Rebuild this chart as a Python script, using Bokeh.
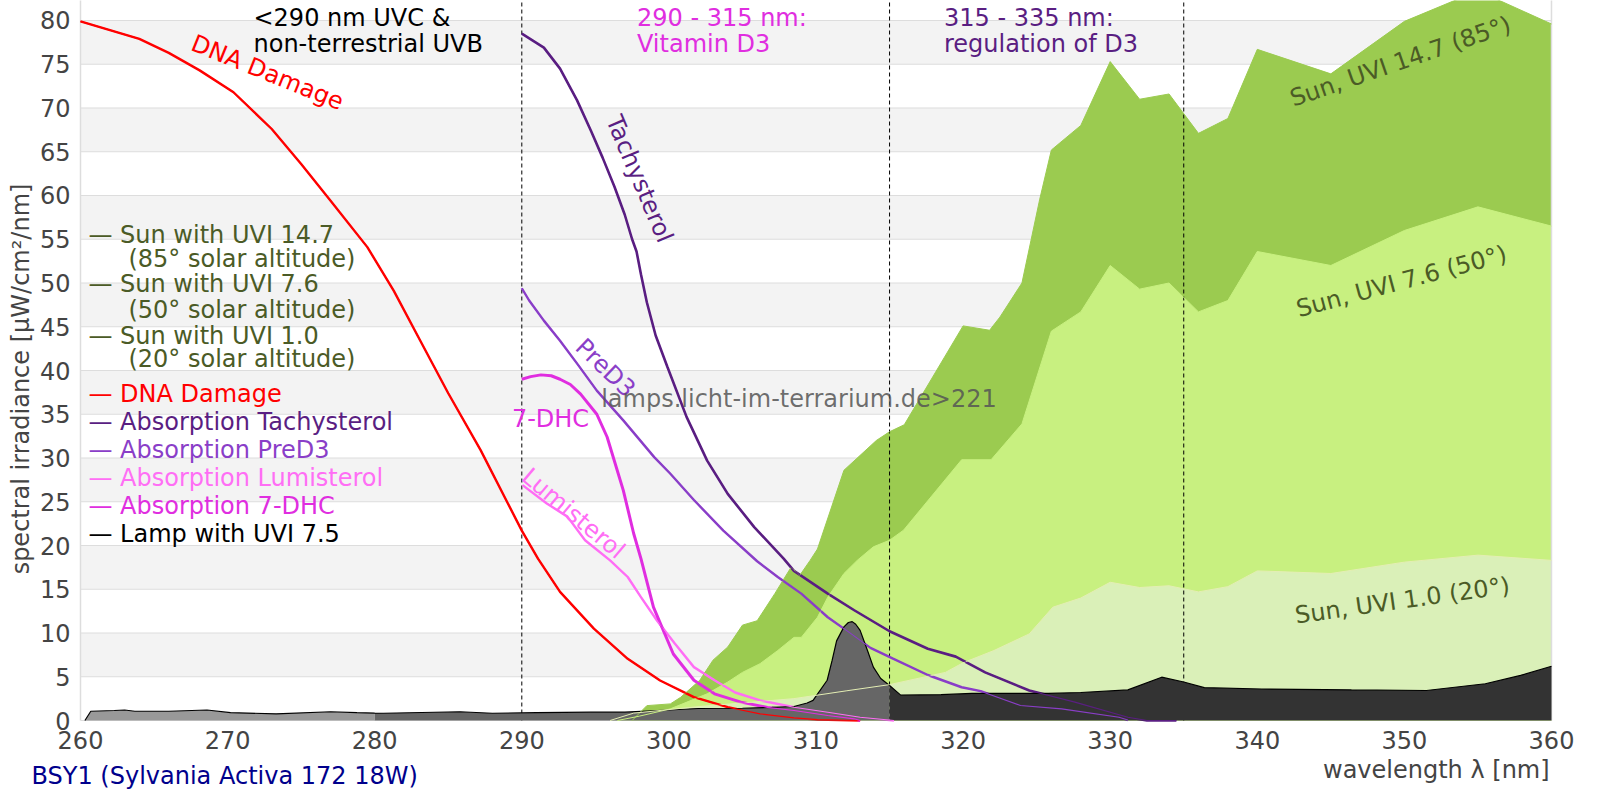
import numpy as np
from bokeh.plotting import figure
from bokeh.models import Label, Range1d
from bokeh.core.properties import value
from bokeh.embed import file_html
from bokeh.resources import INLINE

# ---------------- data ----------------
x_ticks = [260, 270, 280, 290, 300, 310, 320, 330, 340, 350, 360]
x_tick_labels = [str(t) for t in x_ticks]
y_ticks = list(range(0, 81, 5))
y_tick_labels = [str(t) for t in y_ticks]
region_bounds = [290, 315, 335]
wl_min, wl_max = 260, 360

sun147_wl = [297.5, 298.5, 300.1, 300.8, 302.1, 303.0, 304.0, 305.0, 306.0, 307.2, 308.3, 308.9,
             309.6, 310.1, 311.9, 314.1, 315.0, 316.0, 320.0, 321.8, 322.5, 324.0, 325.2, 326.0,
             328.0, 330.0, 332.0, 334.0, 336.0, 338.0, 340.0, 345.0, 350.0, 355.0, 360.0]
sun147_val = [0.0, 1.7, 1.9, 2.65, 4.6, 6.9, 8.4, 10.9, 11.4, 14.5, 17.5, 16.6,
              18.3, 19.6, 28.6, 32.0, 33.0, 33.8, 45.1, 44.6, 46.1, 50.0, 59.5, 65.2,
              68.0, 75.3, 71.0, 71.6, 67.1, 68.8, 76.7, 73.9, 79.9, 83.4, 79.6]

sun76_wl = [296.5, 298.0, 300.1, 302.6, 304.0, 305.0, 306.2, 307.4, 308.5, 309.0, 310.1, 310.8,
            311.9, 312.8, 313.9, 315.0, 315.95, 319.9, 321.9, 324.0, 326.0, 328.0, 330.0, 332.0,
            334.0, 336.0, 338.0, 340.0, 345.0, 350.0, 355.0, 360.0]
sun76_val = [0.0, 0.5, 1.33, 3.05, 4.4, 5.5, 6.5, 8.0, 9.5, 9.5, 11.8, 14.1,
             16.8, 18.3, 19.85, 20.6, 21.75, 29.8, 29.8, 33.9, 44.5, 46.7, 52.0, 49.3,
             50.0, 46.7, 48.0, 53.6, 52.0, 56.0, 58.7, 56.5]

sun10_wl = [296.0, 297.6, 302.1, 308.5, 312.1, 315.0, 318.8, 320.0, 322.1, 324.5, 326.1, 328.0,
            330.0, 332.0, 334.0, 336.0, 338.0, 340.0, 345.0, 350.0, 355.0, 360.0]
sun10_val = [0.0, 0.84, 1.6, 2.5, 3.4, 4.1, 5.5, 6.6, 8.0, 9.9, 12.95, 14.0,
             15.8, 15.2, 15.4, 14.7, 15.3, 17.1, 16.8, 18.1, 18.9, 18.3]

lamp_wl = [260.3, 260.7, 262.3, 263.0, 263.7, 266.0, 268.6, 270.2, 273.3, 277.0, 278.8, 280.0,
           280.6, 285.8, 288.0, 291.0, 294.7, 297.0, 300.0, 302.0, 305.0, 307.0, 308.5, 309.4,
           309.8, 310.76, 311.1, 311.4, 311.9, 312.2, 312.46, 312.7, 313.0, 313.5, 313.9, 314.4,
           315.0, 315.76, 318.5, 320.6, 325.8, 328.0, 331.2, 333.5, 335.0, 336.4, 340.3, 346.4,
           351.5, 355.5, 357.9, 360.0]
lamp_val = [0.0, 1.06, 1.14, 1.2, 1.06, 1.06, 1.2, 0.9, 0.76, 1.0, 0.9, 0.85,
            0.83, 1.0, 0.83, 0.9, 0.95, 0.95, 1.2, 1.37, 1.4, 1.5, 1.6, 2.0,
            2.3, 4.6, 6.9, 9.1, 10.7, 11.2, 11.3, 11.0, 10.3, 8.0, 6.1, 4.8,
            4.0, 2.9, 2.95, 3.1, 3.1, 3.2, 3.5, 4.95, 4.4, 3.75, 3.6, 3.5,
            3.43, 4.2, 5.15, 6.2]

dna_wl = [260, 262, 264, 266, 268.1, 270.4, 273, 275, 277, 279.5, 281.3, 283.1, 285, 287.2,
          290, 291.1, 292.6, 294.9, 297.2, 299.4, 301.7, 304, 306.2, 308.5, 310.1, 313]
dna_val = [79.9, 78.9, 77.9, 76.3, 74.3, 71.8, 67.6, 63.6, 59.4, 54.1, 49.1, 43.4, 37.4, 30.9,
           21.7, 18.5, 14.7, 10.5, 7.05, 4.57, 2.67, 1.52, 0.76, 0.3, 0.1, 0.0]

tachy_wl = [290.0, 291.5, 292.6, 293.75, 294.7, 295.5, 296.3, 297.0, 297.5, 297.8, 298.1, 298.5,
            299.1, 299.9, 301.2, 302.6, 304.0, 305.8, 307.8, 308.5, 310.8, 312.6, 315.0, 317.6,
            319.5, 321.5, 324.5, 327.6, 331.2, 332.5, 334.5]
tachy_val = [78.5, 76.9, 74.5, 70.9, 67.4, 64.3, 61.0, 57.8, 55.0, 53.6, 51.0, 47.8,
             44.0, 40.4, 34.7, 29.7, 25.9, 22.1, 18.5, 17.1, 14.5, 12.6, 10.2, 8.2,
             7.3, 5.5, 3.43, 2.1, 0.38, 0.0, 0.0]

pred3_wl = [290.0, 290.5, 291.5, 292.6, 293.8, 295.1, 296.9, 299.0, 300.1, 301.7, 303.7, 306.0,
            307.4, 309.0, 310.8, 312.4, 313.7, 315.2, 317.6, 319.9, 321.2, 323.9, 326.7, 330.6, 331.2]
pred3_val = [49.4, 48.0, 45.7, 43.4, 40.7, 37.7, 34.3, 30.1, 28.2, 25.2, 21.7, 18.2,
             16.4, 14.5, 11.8, 9.9, 8.3, 7.1, 5.2, 3.8, 3.35, 1.71, 1.33, 0.38, 0.05]

lumi_wl = [290.05, 291.7, 293.1, 294.3, 296.0, 297.2, 298.1, 299.2, 300.4, 301.7, 303.1, 304.5,
           306.2, 308.5, 310.8, 313.0, 315.3]
lumi_val = [26.9, 24.8, 23.3, 20.6, 18.3, 16.4, 14.1, 11.4, 8.8, 6.1, 4.6, 3.2,
            2.3, 1.52, 0.95, 0.38, 0.0]

dhc_wl = [290.0, 290.6, 291.3, 292.0, 292.6, 293.3, 294.0, 295.1, 295.8, 296.9, 297.6, 298.1,
          298.95, 300.3, 301.7, 303.1, 304.9, 306.7, 308.5, 310.8, 312.6, 313.0]
dhc_val = [39.0, 39.3, 39.5, 39.4, 39.0, 38.4, 37.3, 35.0, 32.4, 26.3, 21.4, 18.5,
           12.95, 7.6, 4.6, 3.05, 2.1, 1.5, 1.14, 0.57, 0.19, 0.0]

# ---------------- colours ----------------
C_SUN147 = "#9bcb50"
C_SUN76 = "#c8f080"
C_SUN10 = "#daf0b8"
C_SUNTXT = "#4b5b26"
C_DNA = "#ff0000"
C_TACHY = "#5a1e82"
C_PRED3 = "#8a3ec8"
C_LUMI = "#ff6ef5"
C_DHC = "#e02ee0"
C_AXIS = "#444444"
FONT = "DejaVu Sans"

# the frame covers the whole canvas (14.71 px per nm, 8.75 px per unit) so that the
# axis texts drawn around the data area are not clipped
p = figure(width=1590, height=795, output_backend="svg", toolbar_location=None,
           x_axis_location=None, y_axis_location=None,
           x_range=Range1d(254.5615, 362.6513), y_range=Range1d(-8.5714, 82.2857),
           min_border_left=0, min_border_right=0, min_border_top=0, min_border_bottom=0)
p.background_fill_color = "white"
p.border_fill_color = "white"
p.outline_line_color = None
p.xgrid.visible = False
p.ygrid.visible = False

# grid bands and grid lines between the tick values
band_bottoms = y_ticks[1:-1:2]
band_tops = [b + 5 for b in band_bottoms]
p.quad(left=wl_min, right=wl_max, bottom=band_bottoms, top=band_tops,
       fill_color="#f3f3f3", line_color=None)
p.segment(x0=[wl_min] * len(y_ticks), x1=[wl_max] * len(y_ticks), y0=y_ticks, y1=y_ticks,
          line_color="#dddddd", line_width=1)

# sun areas
p.varea(x=sun147_wl, y1=0, y2=sun147_val, fill_color=C_SUN147)
p.varea(x=sun76_wl, y1=0, y2=sun76_val, fill_color=C_SUN76)
p.varea(x=sun10_wl, y1=0, y2=sun10_val, fill_color=C_SUN10)

# frame edges (light grey) and dashed region boundaries
p.segment(x0=[wl_min, wl_max], x1=[wl_min, wl_max], y0=[0, 0], y1=[100, 100],
          line_color="#dddddd", line_width=1.5)
p.segment(x0=region_bounds, x1=region_bounds, y0=[0] * 3, y1=[100] * 3,
          line_color="black", line_width=1, line_dash="4 3")

curves = [(dna_wl, dna_val, C_DNA, 2.4), (tachy_wl, tachy_val, C_TACHY, 2.6),
          (pred3_wl, pred3_val, C_PRED3, 2.4), (lumi_wl, lumi_val, C_LUMI, 2.4),
          (dhc_wl, dhc_val, C_DHC, 3.0)]
for wl, val, col, w in curves:
    p.line(wl, val, line_color=col, line_width=w)

# lamp
lw = np.array(lamp_wl)
lv = np.array(lamp_val)
for lo, hi, col in [(260, 280, "#999999"), (280, 315, "#666666"), (315, 360, "#333333")]:
    m = (lw >= lo) & (lw <= hi)
    p.varea(x=lw[m], y1=0, y2=lv[m], fill_color=col)
p.line(lamp_wl, lamp_val, line_color="black", line_width=1.2)

# thin overlays (visible inside lamp area)
for wl, val, col in [(sun147_wl, sun147_val, C_SUN147), (sun76_wl, sun76_val, C_SUN76),
                     (sun10_wl, sun10_val, "#e4eeb4")]:
    p.line(wl, val, line_color=col, line_width=1.0)
for wl, val, col, w in curves:
    p.line(wl, val, line_color=col, line_width=1.1)

# tick labels through the data scales
p.text(x=x_ticks, y=[0] * len(x_ticks), text=x_tick_labels, y_offset=19,
       text_align="center", text_baseline="middle", text_color=C_AXIS,
       text_font=value(FONT), text_font_size=value("24px"))
p.text(x=[wl_min] * len(y_ticks), y=y_ticks, text=y_tick_labels, x_offset=-10,
       text_align="right", text_baseline="middle", text_color=C_AXIS,
       text_font=value(FONT), text_font_size=value("24px"))


def lab(x, y, text, color, angle=0.0, align="left", size="24px", alpha=1.0):
    p.add_layout(Label(x=x, y=y, text=text, text_color=color, angle=angle, angle_units="deg",
                       text_align=align, text_baseline="middle", text_font=FONT,
                       text_font_size=size, text_alpha=alpha))


# legend (text entries)
legend_rows = [
    ("— Sun with UVI 14.7", C_SUNTXT, 260.54, 55.43),
    ("(85° solar altitude)", C_SUNTXT, 263.26, 52.69),
    ("— Sun with UVI 7.6", C_SUNTXT, 260.54, 49.83),
    ("(50° solar altitude)", C_SUNTXT, 263.26, 46.97),
    ("— Sun with UVI 1.0", C_SUNTXT, 260.54, 44.0),
    ("(20° solar altitude)", C_SUNTXT, 263.26, 41.26),
    ("— DNA Damage", C_DNA, 260.54, 37.26),
    ("— Absorption Tachysterol", C_TACHY, 260.54, 34.06),
    ("— Absorption PreD3", C_PRED3, 260.54, 30.86),
    ("— Absorption Lumisterol", C_LUMI, 260.54, 27.66),
    ("— Absorption 7-DHC", C_DHC, 260.54, 24.46),
    ("— Lamp with UVI 7.5", "black", 260.54, 21.37),
]
for t, c, x, y in legend_rows:
    lab(x, y, t, c)

# region headers
lab(271.76, 80.23, "<290 nm UVC &", "black")
lab(271.76, 77.26, "non-terrestrial UVB", "black")
lab(297.83, 80.23, "290 - 315 nm:", C_DHC)
lab(297.83, 77.26, "Vitamin D3", C_DHC)
lab(318.70, 80.23, "315 - 335 nm:", C_TACHY)
lab(318.70, 77.26, "regulation of D3", C_TACHY)

# curve labels
lab(272.71, 74.06, "DNA Damage", C_DNA, angle=-22, align="center")
lab(298.0, 61.89, "Tachysterol", C_TACHY, angle=-67, align="center")
lab(295.69, 40.29, "PreD3", C_PRED3, angle=-44, align="center")
lab(293.51, 23.66, "Lumisterol", C_LUMI, angle=-40, align="center")
lab(291.95, 34.51, "7-DHC", C_DHC, align="center")
lab(349.73, 75.31, "Sun, UVI 14.7 (85°)", C_SUNTXT, angle=19, align="center")
lab(349.80, 50.17, "Sun, UVI 7.6 (50°)", C_SUNTXT, angle=15, align="center")
lab(349.87, 13.71, "Sun, UVI 1.0 (20°)", C_SUNTXT, angle=8, align="center")

# watermark
lab(308.84, 36.8, "lamps.licht-im-terrarium.de>221", "#555555", align="center", alpha=0.85)

# axis titles and lamp name
lab(255.95, 39.03, "spectral irradiance [µW/cm²/nm]", C_AXIS, angle=90, align="center")
lab(359.87, -5.6, "wavelength λ [nm]", C_AXIS, align="right")
lab(256.67, -6.29, "BSY1 (Sylvania Activa 172 18W)", "#00008c")

open("out.html", "w").write(file_html(p, INLINE))
